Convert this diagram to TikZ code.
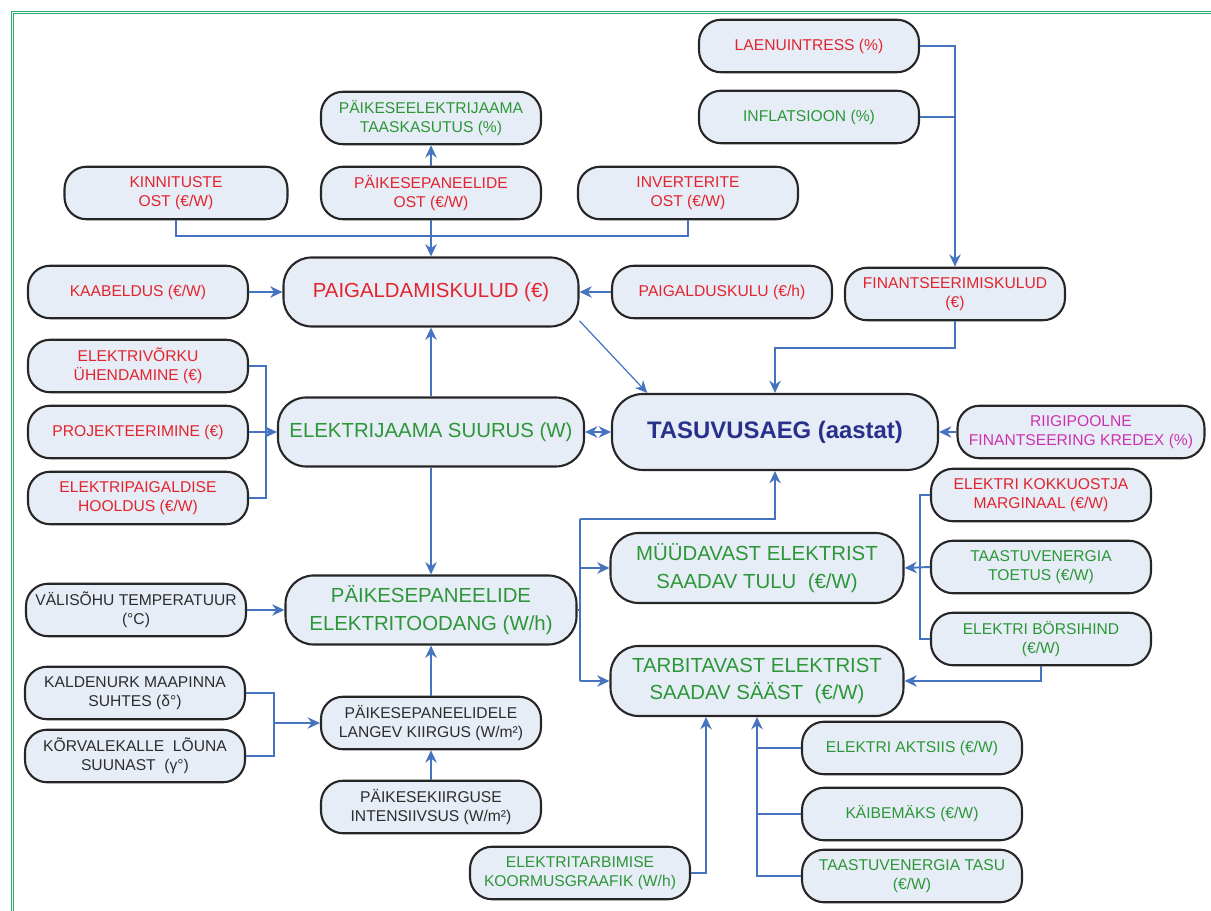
\documentclass[tikz,border=0pt]{standalone}
\usepackage{fontspec}
\setmainfont{Liberation Sans}
\usetikzlibrary{arrows.meta}
\definecolor{boxfill}{RGB}{231,237,246}
\definecolor{linkblue}{RGB}{70,115,192}
\definecolor{tred}{RGB}{226,36,46}
\definecolor{tgreen}{RGB}{44,150,56}
\definecolor{tnavy}{RGB}{40,48,140}
\definecolor{tmag}{RGB}{204,50,176}
\definecolor{tgray}{RGB}{45,45,45}
\definecolor{frame}{RGB}{40,170,110}
\tikzstyle{pbox}=[rectangle,rounded corners=0.44cm,draw=black!85,line width=1.2pt,fill=boxfill,align=center,minimum width=4.4cm,minimum height=1.05cm,inner sep=1pt,font=\fontsize{8.9}{10.8}\selectfont]
\tikzstyle{bigbox}=[pbox,rounded corners=0.56cm,minimum width=5.9cm,minimum height=1.38cm,font=\fontsize{11.6}{15.5}\selectfont]
\tikzstyle{link}=[draw=linkblue,line width=1.1pt]
\tikzstyle{flow}=[link,-{Stealth[length=7pt,width=6.5pt]}]

\begin{document}
\begin{tikzpicture}[x=0.02cm,y=-0.02cm]
\useasboundingbox (0,0) rectangle (1211,911);
\draw[frame,line width=0.55pt,double=white,double distance=0.6pt] (12.5,911)--(12.5,12.5)--(1211,12.5);

\node[pbox,text=tred] (laen) at (809,46) {LAENUINTRESS (\%)};
\node[pbox,text=tgreen] (infl) at (809,117) {INFLATSIOON (\%)};
\node[pbox,text=tgreen] (taask) at (431,118) {PÄIKESEELEKTRIJAAMA\\TAASKASUTUS (\%)};
\node[pbox,text=tred,minimum width=4.46cm] (kinn) at (176,193) {KINNITUSTE\\OST (€/W)};
\node[pbox,text=tred] (ppost) at (431,193) {PÄIKESEPANEELIDE\\OST (€/W)};
\node[pbox,text=tred] (inv) at (688,193) {INVERTERITE\\OST (€/W)};
\node[pbox,text=tred] (kaab) at (138,292) {KAABELDUS (€/W)};
\node[bigbox,text=tred] (paig) at (431,292) {PAIGALDAMISKULUD (€)};
\node[pbox,text=tred] (pkulu) at (722,292) {PAIGALDUSKULU (€/h)};
\node[pbox,text=tred] (fin) at (955,294) {FINANTSEERIMISKULUD\\(€)};
\node[pbox,text=tred] (vork) at (138,366) {ELEKTRIVÕRKU\\ÜHENDAMINE (€)};
\node[pbox,text=tred] (proj) at (138,432) {PROJEKTEERIMINE (€)};
\node[pbox,text=tred] (hool) at (138,498) {ELEKTRIPAIGALDISE\\HOOLDUS (€/W)};
\node[bigbox,text=tgreen,minimum width=6.12cm] (suur) at (431,432) {ELEKTRIJAAMA SUURUS (W)};
\node[bigbox,text=tnavy,minimum width=6.52cm,minimum height=1.52cm,rounded corners=0.62cm,font=\fontsize{13.6}{16}\selectfont\bfseries] (tasu) at (775,432) {TASUVUSAEG (aastat)};
\node[pbox,text=tmag,minimum width=4.94cm] (kredex) at (1081,432) {RIIGIPOOLNE\\FINANTSEERING KREDEX (\%)};
\node[pbox,text=tred] (marg) at (1041,495) {ELEKTRI KOKKUOSTJA\\MARGINAAL (€/W)};
\node[pbox,text=tgreen] (toetus) at (1041,567) {TAASTUVENERGIA\\TOETUS (€/W)};
\node[pbox,text=tgreen] (bors) at (1041,639) {ELEKTRI BÖRSIHIND\\(€/W)};
\node[bigbox,text=tgreen,minimum width=5.86cm,minimum height=1.4cm] (muud) at (757,568) {MÜÜDAVAST ELEKTRIST\\SAADAV TULU\ \ (€/W)};
\node[bigbox,text=tgreen,minimum width=5.86cm,minimum height=1.4cm] (tarb) at (757,681) {TARBITAVAST ELEKTRIST\\SAADAV SÄÄST\ \ (€/W)};
\node[bigbox,text=tgreen,minimum width=5.82cm] (tood) at (431,610) {PÄIKESEPANEELIDE\\ELEKTRITOODANG (W/h)};
\node[pbox,text=tgray] (valis) at (136,610) {VÄLISÕHU TEMPERATUUR\\(°C)};
\node[pbox,text=tgray] (kald) at (135,693) {KALDENURK MAAPINNA\\SUHTES (δ°)};
\node[pbox,text=tgray] (korv) at (135,756) {KÕRVALEKALLE\ \ LÕUNA\\SUUNAST\ \ (γ°)};
\node[pbox,text=tgray] (kiir) at (431,723) {PÄIKESEPANEELIDELE\\LANGEV KIIRGUS (W/m²)};
\node[pbox,text=tgray] (inten) at (431,807) {PÄIKESEKIIRGUSE\\INTENSIIVSUS (W/m²)};
\node[pbox,text=tgreen] (koorm) at (580,873) {ELEKTRITARBIMISE\\KOORMUSGRAAFIK (W/h)};
\node[pbox,text=tgreen] (akts) at (912,748) {ELEKTRI AKTSIIS (€/W)};
\node[pbox,text=tgreen] (kaibe) at (912,814) {KÄIBEMÄKS (€/W)};
\node[pbox,text=tgreen] (tasutasu) at (912,876) {TAASTUVENERGIA TASU\\(€/W)};

\coordinate (lj) at (266,432);
\coordinate (kj) at (274,723);
\coordinate (mj) at (920,567);
\coordinate (tj) at (580,519);
\coordinate (bj) at (580,681);

\draw[flow] (ppost)--(taask);
\draw[link] (kinn.south)--++(0,16)-|(inv.south);
\draw[flow] (ppost)--(paig);
\draw[flow] (kaab)--(paig);
\draw[flow] (pkulu)--(paig);
\draw[flow] (laen.east)-|(fin.north);
\draw[link] (infl.east)--(infl.east-|fin.north);
\draw[flow] (fin.south)--++(0,27)-|(tasu.north);
\draw[flow,line width=0.7pt] (paig.-11)--(tasu.163);
\draw[link] (vork.east)-|(lj)|-(hool.east);
\draw[flow] (proj.east)--(suur.west);
\draw[flow] (suur)--(paig);
\draw[link,{Stealth[length=7pt,width=6.5pt]}-{Stealth[length=7pt,width=6.5pt]}] (suur)--(tasu);
\draw[flow] (kredex)--(tasu);
\draw[flow] (suur)--(tood);
\draw[link] (tood.east)--(tood.east-|tj);
\draw[flow] (tj)-|(tasu.south);
\draw[link] (tj)--(bj);
\draw[flow] (tj|-muud.west)--(muud.west);
\draw[flow] (bj)--(tarb.west);
\draw[link] (marg.west)-|(mj)|-(bors.west);
\draw[flow] (toetus.west)--(muud.east);
\draw[flow] (bors.south)|-(tarb.east);
\draw[flow] (koorm.east)-|([xshift=-1.02cm]tarb.south);
\draw[flow] (tasutasu.west)-|(tarb.south);
\draw[link] (akts.west)--(akts.west-|tarb.south);
\draw[link] (kaibe.west)--(kaibe.west-|tarb.south);
\draw[flow] (valis)--(tood);
\draw[link] (kald.east)-|(kj)|-(korv.east);
\draw[flow] (kj)--(kiir.west);
\draw[flow] (kiir)--(tood);
\draw[flow] (inten)--(kiir);
\end{tikzpicture}
\end{document}
